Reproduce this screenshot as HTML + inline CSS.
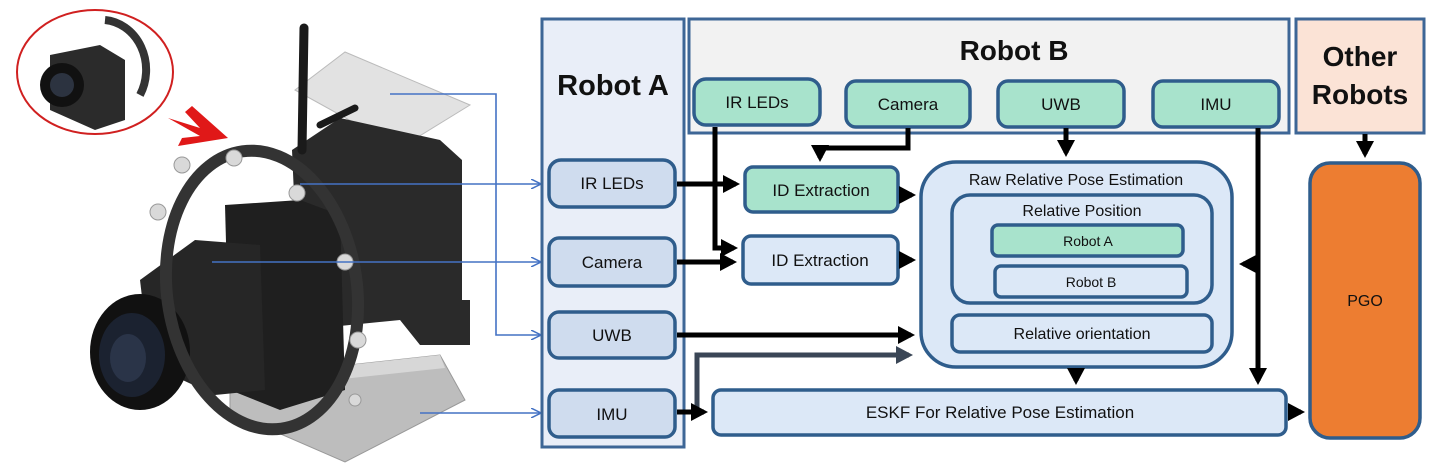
<!DOCTYPE html>
<html><head><meta charset="utf-8"><style>
html,body{margin:0;padding:0;background:#fff;}
svg{display:block;}
text{font-family:"Liberation Sans",sans-serif;fill:#111;}
</style></head><body>
<svg width="1437" height="471" viewBox="0 0 1437 471" xmlns="http://www.w3.org/2000/svg">
<defs>
<marker id="ah" markerWidth="3.4" markerHeight="3.6" refX="2.6" refY="1.8" orient="auto" markerUnits="strokeWidth"><path d="M0,0 L3.4,1.8 L0,3.6 z" fill="#000"/></marker>
<marker id="ahg" markerWidth="3.4" markerHeight="3.6" refX="2.6" refY="1.8" orient="auto" markerUnits="strokeWidth"><path d="M0,0 L3.4,1.8 L0,3.6 z" fill="#3a4656"/></marker>
<marker id="ab" markerWidth="10" markerHeight="10" refX="9" refY="5" orient="auto" markerUnits="userSpaceOnUse"><path d="M0,0 L10,5 L0,10" fill="none" stroke="#4472c4" stroke-width="1.5"/></marker>
</defs>

<!-- ===== left robot illustration ===== -->
<ellipse cx="95" cy="72" rx="78" ry="62" fill="#fff" stroke="#d02020" stroke-width="2"/>
<path d="M50,55 L100,45 L125,60 L125,120 L95,130 L50,110 Z" fill="#2b2b2b"/>
<circle cx="62" cy="85" r="22" fill="#111"/><circle cx="62" cy="85" r="12" fill="#2c3340"/>
<path d="M105,20 A45,50 0 0 1 140,95" fill="none" stroke="#333" stroke-width="8"/>
<polygon points="168,118 200,128 185,112 192,106 228,138 178,146 182,138 200,136" fill="#e01818"/>
<!-- top plate -->
<polygon points="295,90 345,52 470,105 400,148" fill="#e2e2e2" stroke="#bbb"/>
<!-- back block -->
<polygon points="292,150 340,118 440,140 462,160 462,300 470,300 470,345 420,345 400,320 300,330" fill="#2a2a2a"/>
<!-- base plate -->
<polygon points="230,378 440,355 465,400 345,462 230,412" fill="#bdbdbd" stroke="#999"/>
<polygon points="230,378 440,355 445,368 240,390" fill="#d7d7d7"/>
<!-- middle block -->
<polygon points="225,205 300,200 340,215 345,390 280,410 230,390" fill="#1f1f1f"/>
<!-- front camera block -->
<polygon points="140,280 195,240 260,245 265,390 215,395 150,365" fill="#262626"/>
<!-- lens -->
<ellipse cx="140" cy="352" rx="50" ry="58" fill="#111"/>
<ellipse cx="132" cy="355" rx="33" ry="42" fill="#1b2230"/>
<ellipse cx="128" cy="358" rx="18" ry="24" fill="#2a3448"/>
<!-- ring -->
<ellipse cx="262" cy="290" rx="95" ry="140" fill="none" stroke="#333" stroke-width="12" transform="rotate(-8 262 290)"/>
<g fill="#d9d9d9" stroke="#999">
<circle cx="182" cy="165" r="8"/><circle cx="234" cy="158" r="8"/><circle cx="297" cy="193" r="8"/>
<circle cx="158" cy="212" r="8"/><circle cx="345" cy="262" r="8"/><circle cx="358" cy="340" r="8"/><circle cx="355" cy="400" r="6"/>
</g>
<!-- antenna -->
<line x1="304" y1="28" x2="302" y2="150" stroke="#1a1a1a" stroke-width="9" stroke-linecap="round"/>
<line x1="320" y1="125" x2="355" y2="108" stroke="#1a1a1a" stroke-width="7" stroke-linecap="round"/>

<!-- blue leader lines -->
<g stroke="#4472c4" stroke-width="1.6" fill="none">
<line x1="300" y1="184" x2="540" y2="184" marker-end="url(#ab)"/>
<line x1="212" y1="262" x2="540" y2="262" marker-end="url(#ab)"/>
<polyline points="390,94 496,94 496,335 540,335" marker-end="url(#ab)"/>
<line x1="420" y1="413" x2="540" y2="413" marker-end="url(#ab)"/>
</g>

<!-- ===== containers ===== -->
<rect x="542" y="19" width="142" height="428" fill="#e9eef8" stroke="#3d6696" stroke-width="3"/>
<text x="613" y="95" font-size="29" font-weight="bold" text-anchor="middle">Robot A</text>
<rect x="689" y="19" width="600" height="114" fill="#f2f2f2" stroke="#3d6696" stroke-width="3"/>
<text x="1014" y="60" font-size="28" font-weight="bold" text-anchor="middle">Robot B</text>
<rect x="1296" y="19" width="128" height="114" fill="#fbe3d6" stroke="#3d6696" stroke-width="3"/>
<text x="1360" y="66" font-size="28" font-weight="bold" text-anchor="middle">Other</text>
<text x="1360" y="104" font-size="28" font-weight="bold" text-anchor="middle">Robots</text>

<g stroke="#2f5d8c" stroke-width="3.5">
<rect x="694" y="79" width="126" height="46" rx="12" fill="#a8e3cc"/>
<rect x="846" y="81" width="124" height="46" rx="10" fill="#a8e3cc"/>
<rect x="998" y="81" width="126" height="46" rx="10" fill="#a8e3cc"/>
<rect x="1153" y="81" width="126" height="46" rx="10" fill="#a8e3cc"/>
<rect x="549" y="160" width="126" height="47" rx="12" fill="#cfdcee"/>
<rect x="549" y="238" width="126" height="48" rx="10" fill="#cfdcee"/>
<rect x="549" y="312" width="126" height="46" rx="10" fill="#cfdcee"/>
<rect x="549" y="390" width="126" height="47" rx="10" fill="#cfdcee"/>
<rect x="745" y="167" width="153" height="45" rx="8" fill="#a8e3cc"/>
<rect x="743" y="236" width="155" height="48" rx="8" fill="#dce8f7"/>
<rect x="921" y="162" width="311" height="205" rx="35" fill="#dce8f7"/>
<rect x="952" y="195" width="260" height="108" rx="18" fill="#dce8f7"/>
<rect x="992" y="225" width="191" height="31" rx="6" fill="#a8e3cc"/>
<rect x="995" y="266" width="192" height="31" rx="6" fill="#dce8f7"/>
<rect x="952" y="315" width="260" height="37" rx="8" fill="#dce8f7"/>
<rect x="713" y="390" width="573" height="45" rx="8" fill="#dce8f7"/>
<rect x="1310" y="163" width="110" height="275" rx="20" fill="#ed7d31"/>
</g>

<g font-size="17" text-anchor="middle">
<text x="757" y="108">IR LEDs</text>
<text x="908" y="110">Camera</text>
<text x="1061" y="110">UWB</text>
<text x="1216" y="110">IMU</text>
<text x="612" y="189">IR LEDs</text>
<text x="612" y="268">Camera</text>
<text x="612" y="341">UWB</text>
<text x="612" y="420">IMU</text>
<text x="821" y="196">ID Extraction</text>
<text x="820" y="266">ID Extraction</text>
<text x="1076" y="185" font-size="16">Raw Relative Pose Estimation</text>
<text x="1082" y="216" font-size="16">Relative Position</text>
<text x="1088" y="246" font-size="14">Robot A</text>
<text x="1091" y="287" font-size="14">Robot B</text>
<text x="1082" y="339" font-size="16">Relative orientation</text>
<text x="1000" y="418">ESKF For Relative Pose Estimation</text>
<text x="1365" y="306" font-size="16">PGO</text>
</g>

<!-- ===== black arrows ===== -->
<g stroke="#000" stroke-width="5" fill="none">
<line x1="677" y1="184" x2="736" y2="184" marker-end="url(#ah)"/>
<polyline points="715,127 715,248 734,248" marker-end="url(#ah)"/>
<polyline points="908,128 908,148 820,148 820,158" marker-end="url(#ah)"/>
<line x1="677" y1="262" x2="733" y2="262" marker-end="url(#ah)"/>
<line x1="900" y1="195" x2="912" y2="195" marker-end="url(#ah)"/>
<line x1="900" y1="260" x2="912" y2="260" marker-end="url(#ah)"/>
<line x1="1066" y1="128" x2="1066" y2="153" marker-end="url(#ah)"/>
<line x1="1258" y1="128" x2="1258" y2="381" marker-end="url(#ah)"/>
<line x1="1258" y1="264" x2="1243" y2="264" marker-end="url(#ah)"/>
<line x1="677" y1="335" x2="911" y2="335" marker-end="url(#ah)"/>
<polyline points="677,412 697,412 697,355 909,355" stroke="#3a4656" marker-end="url(#ahg)"/>
<line x1="677" y1="412" x2="704" y2="412" marker-end="url(#ah)"/>
<line x1="1076" y1="368" x2="1076" y2="381" marker-end="url(#ah)"/>
<line x1="1288" y1="412" x2="1301" y2="412" marker-end="url(#ah)"/>
<line x1="1365" y1="134" x2="1365" y2="154" marker-end="url(#ah)"/>
</g>
</svg>
</body></html>
